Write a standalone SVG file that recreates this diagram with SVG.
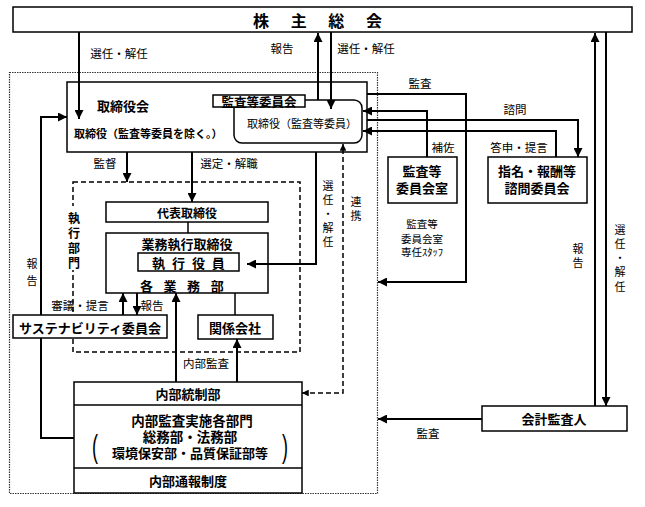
<svg xmlns="http://www.w3.org/2000/svg" width="645" height="507" viewBox="0 0 645 507">
<style>
text{font-family:"Noto Sans CJK JP","Liberation Sans",sans-serif;fill:#000;dominant-baseline:central}
.lb{font-size:11.5px}
.vl{font-size:11px}
.b{font-weight:bold}
.box{fill:#fff;stroke:#000;stroke-width:1.5}
.ln{fill:none;stroke:#000;stroke-width:2}
.dash{fill:none;stroke:#000;stroke-width:1.5;stroke-dasharray:5 3}
.m{text-anchor:middle}
</style>
<defs>
<marker id="ah" viewBox="0 0 10 10" refX="10" refY="5" markerWidth="4.5" markerHeight="4.5" orient="auto-start-reverse" markerUnits="strokeWidth">
<path d="M0,0 L10,5 L0,10 z" fill="#000"/>
</marker>
</defs>
<rect width="645" height="507" fill="#fff"/>

<g id="outer-scope">
<rect x="9.5" y="72.5" width="368" height="421" fill="none" stroke="#333" stroke-width="1.2" stroke-dasharray="1.5 1"/>
</g>

<g id="shareholders">
<rect class="box" x="13" y="7" width="619" height="25"/>
<text x="253" y="20" class="b" font-size="16" letter-spacing="9">株 主 総 会</text>
</g>

<g id="board">
<rect class="box" x="67" y="82" width="300" height="70"/>
<text x="97" y="105" class="b" font-size="13">取締役会</text>
<text x="74" y="133" class="b" font-size="11">取締役（監査等委員を除く。）</text>
</g>

<g id="audit-committee">
<rect class="box" x="234" y="100" width="128" height="43" rx="8"/>
<text x="302" y="123" class="m" font-size="11">取締役（監査等委員）</text>
<rect class="box" x="213" y="95" width="92" height="12"/>
<text x="259" y="101" class="m b" font-size="12.5">監査等委員会</text>
</g>

<g id="audit-office">
<rect class="box" x="388" y="157" width="69" height="46"/>
<text x="422" y="170" class="m b" font-size="13">監査等</text>
<text x="422" y="187" class="m b" font-size="13">委員会室</text>
<text x="422" y="223" class="m" font-size="10.5">監査等</text>
<text x="422" y="238" class="m" font-size="10.5">委員会室</text>
<text x="422" y="251" class="m" font-size="10.5">専任ｽﾀｯﾌ</text>
</g>

<g id="nomination-committee">
<rect class="box" x="488" y="157" width="99" height="46"/>
<text x="537" y="170" class="m b" font-size="13">指名・報酬等</text>
<text x="537" y="187" class="m b" font-size="13">諮問委員会</text>
</g>

<g id="exec-dept">
<rect class="dash" x="73" y="182" width="227" height="170"/>
<rect x="66" y="206" width="16" height="64" fill="#fff"/>
<text class="b m" font-size="12"><tspan x="74" y="217">執</tspan><tspan x="74" y="232">行</tspan><tspan x="74" y="247">部</tspan><tspan x="74" y="262">門</tspan></text>
</g>

<g id="representative">
<rect class="box" x="106" y="202" width="162" height="20"/>
<text x="187" y="212" class="m b" font-size="12">代表取締役</text>
</g>

<g id="executive-directors">
<rect class="box" x="106" y="233" width="162" height="60"/>
<text x="187" y="243" class="m b" font-size="13">業務執行取締役</text>
<rect class="box" x="138" y="253" width="101" height="18"/>
<text x="152" y="262" class="b" font-size="13" letter-spacing="2">執 行 役 員</text>
<text x="140" y="285" class="b" font-size="13" letter-spacing="3.8">各 業 務 部</text>
</g>

<g id="sustainability">
<rect class="box" x="13" y="315" width="154" height="23"/>
<text x="90" y="327" class="m b" font-size="13">サステナビリティ委員会</text>
</g>

<g id="affiliates">
<rect class="box" x="198" y="315" width="75" height="24"/>
<text x="235" y="327" class="m b" font-size="13">関係会社</text>
</g>

<g id="internal-control">
<rect class="box" x="74" y="382" width="228" height="111"/>
<line x1="74" y1="405" x2="302" y2="405" stroke="#000" stroke-width="1.5"/>
<line x1="74" y1="468" x2="302" y2="468" stroke="#000" stroke-width="1.5"/>
<text x="188" y="393" class="m b" font-size="13">内部統制部</text>
<text x="192" y="420" class="m b" font-size="13.5">内部監査実施各部門</text>
<text x="190" y="436" class="m b" font-size="13.5">総務部・法務部</text>
<text x="190" y="452" class="m b" font-size="13">環境保安部・品質保証部等</text>
<text transform="translate(95,446) scale(1,1.75)" class="m" font-size="18" style="font-family:'Liberation Sans',sans-serif">(</text>
<text transform="translate(285,446) scale(1,1.75)" class="m" font-size="18" style="font-family:'Liberation Sans',sans-serif">)</text>
<text x="188" y="480" class="m b" font-size="13">内部通報制度</text>
</g>

<g id="auditor">
<rect class="box" x="482" y="406" width="145" height="25"/>
<text x="554" y="418" class="m b" font-size="13">会計監査人</text>
</g>

<g id="connectors">
<line class="ln" x1="79" y1="32" x2="79" y2="119" marker-end="url(#ah)"/>
<line class="ln" x1="318" y1="100" x2="318" y2="33" marker-end="url(#ah)"/>
<line class="ln" x1="331" y1="32" x2="331" y2="109" marker-end="url(#ah)"/>
<line class="ln" x1="595" y1="406" x2="595" y2="33" marker-end="url(#ah)"/>
<line class="ln" x1="606" y1="32" x2="606" y2="406" marker-end="url(#ah)"/>
<path class="ln" d="M367,94 H466 V282 H378" marker-end="url(#ah)"/>
<path class="ln" d="M427,157 V111 H363" marker-end="url(#ah)"/>
<path class="ln" d="M367,120 H578 V157" marker-end="url(#ah)"/>
<path class="ln" d="M556,157 V131 H363" marker-end="url(#ah)"/>
<line class="ln" x1="127" y1="152" x2="127" y2="182" marker-end="url(#ah)"/>
<line class="ln" x1="192" y1="152" x2="192" y2="202" marker-end="url(#ah)"/>
<path class="ln" d="M316,152 V264 H247" marker-end="url(#ah)"/>
<path class="dash" d="M302,393 H343 V144" marker-start="url(#ah)" marker-end="url(#ah)"/>
<line x1="188" y1="222" x2="188" y2="233" stroke="#000" stroke-width="1.5"/>
<line class="ln" x1="123" y1="315" x2="123" y2="293" marker-end="url(#ah)"/>
<line class="ln" x1="137" y1="293" x2="137" y2="315" marker-end="url(#ah)"/>
<line x1="235" y1="293" x2="235" y2="315" stroke="#000" stroke-width="1.5"/>
<line class="ln" x1="176" y1="382" x2="176" y2="293" marker-end="url(#ah)"/>
<line class="ln" x1="237" y1="382" x2="237" y2="339" marker-end="url(#ah)"/>
<path class="ln" d="M74,438 H41 V338"/>
<path class="ln" d="M41,315 V117 H67" marker-end="url(#ah)"/>
<line class="ln" x1="482" y1="419" x2="378" y2="419" marker-end="url(#ah)"/>
</g>

<g id="labels">
<text x="119" y="53" class="lb m">選任・解任</text>
<text x="282" y="48" class="lb m">報告</text>
<text x="366" y="48" class="lb m">選任・解任</text>
<text x="420" y="83" class="lb m">監査</text>
<text x="515" y="109" class="lb m">諮問</text>
<text x="443" y="147" class="lb m">補佐</text>
<text x="519" y="147" class="lb m">答申・提言</text>
<text x="105" y="163" class="lb m">監督</text>
<text x="229" y="163" class="lb m">選定・解職</text>
<text class="vl m"><tspan x="328" y="185">選</tspan><tspan x="328" y="199">任</tspan><tspan x="328" y="213">・</tspan><tspan x="328" y="227">解</tspan><tspan x="328" y="241">任</tspan></text>
<text class="vl m"><tspan x="356" y="201">連</tspan><tspan x="356" y="215">携</tspan></text>
<text class="vl m"><tspan x="32" y="263">報</tspan><tspan x="32" y="280">告</tspan></text>
<text class="vl m"><tspan x="578" y="248">報</tspan><tspan x="578" y="262">告</tspan></text>
<text class="vl m"><tspan x="620" y="229">選</tspan><tspan x="620" y="243">任</tspan><tspan x="620" y="257">・</tspan><tspan x="620" y="271">解</tspan><tspan x="620" y="286">任</tspan></text>
<text x="80" y="305" class="lb m">審議・提言</text>
<text x="152" y="305" class="lb m">報告</text>
<text x="206" y="363" class="lb m">内部監査</text>
<text x="428" y="433" class="lb m">監査</text>
</g>
</svg>
